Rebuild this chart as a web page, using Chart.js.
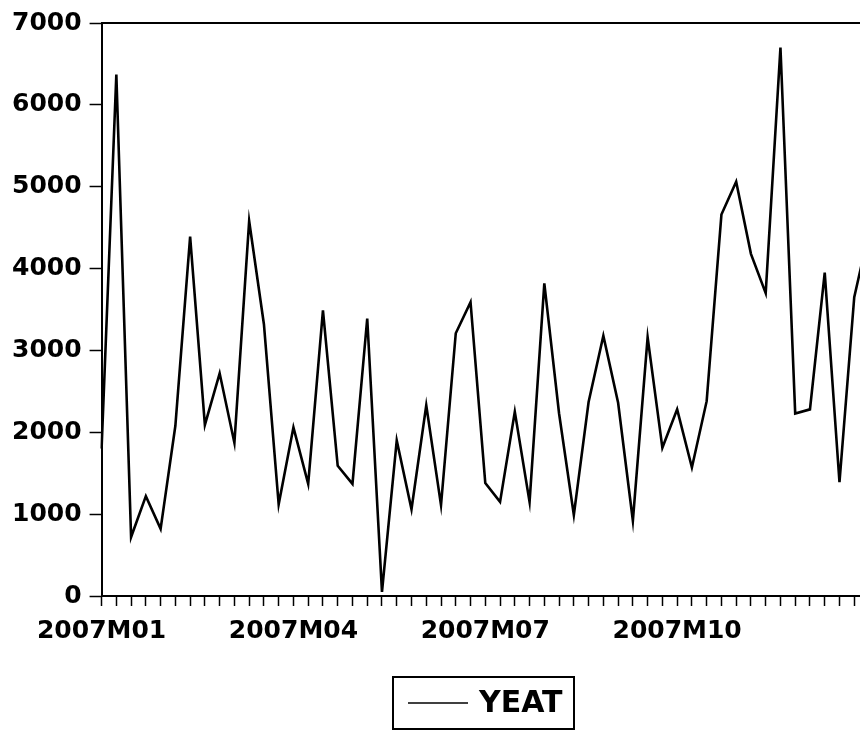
<!DOCTYPE html>
<html>
<head>
<meta charset="utf-8">
<script src="https://cdn.jsdelivr.net/npm/chart.js@4.4.0/dist/chart.umd.min.js"></script>
<style>
  html, body { margin: 0; padding: 0; background: #fff; overflow: hidden; }
  .wrap { position: relative; width: 880px; height: 732px; }
</style>
</head>
<body>
<div class="wrap"><canvas id="myChart" width="880" height="732"></canvas></div>
<script>
// months and how many weekly observations fall in each
const months = ['2007M01','2007M02','2007M03','2007M04','2007M05','2007M06',
                '2007M07','2007M08','2007M09','2007M10','2007M11','2007M12'];
const weeksPerMonth = [5,4,4,5,4,4,5,4,4,5,4,5];
const tickMonths = ['2007M01','2007M04','2007M07','2007M10'];

const yeat = [1800, 6370, 720, 1220, 820, 2080, 4390, 2090, 2720, 1870,
              4580, 3320, 1120, 2060, 1370, 3490, 1590, 1370, 3390, 50,
              1900, 1060, 2330, 1110, 3210, 3590, 1380, 1150, 2250, 1150,
              3820, 2230, 990, 2370, 3180, 2360, 920, 3160, 1810, 2280,
              1570, 2380, 4660, 5060, 4180, 3700, 6700, 2230, 2280, 3950,
              1390, 3650, 4450];

const yTicks = [0, 1000, 2000, 3000, 4000, 5000, 6000, 7000];

let categories = [];
months.forEach((m, i) => {
    for (let k = 0; k < weeksPerMonth[i]; k++) categories.push(m);
});

const tickFont = { family: 'DejaVu Sans', weight: 'bold', size: 25 };

// top frame line + boxed legend like the eviews output
const framePlugin = {
    id: 'frame',
    afterDraw(chart) {
        const ctx = chart.ctx;
        const area = chart.chartArea;
        ctx.save();
        ctx.strokeStyle = '#000';
        ctx.lineWidth = 2;
        ctx.beginPath();
        ctx.moveTo(area.left, area.top);
        ctx.lineTo(area.right, area.top);
        ctx.stroke();

        // legend
        const bx = 393, by = 677, bw = 181, bh = 52;
        ctx.lineWidth = 2;
        ctx.strokeRect(bx, by, bw, bh);
        ctx.lineWidth = 1.5;
        ctx.beginPath();
        ctx.moveTo(408, 703);
        ctx.lineTo(468, 703);
        ctx.stroke();
        ctx.fillStyle = '#000';
        ctx.font = 'bold 30px "DejaVu Sans"';
        ctx.textBaseline = 'middle';
        ctx.fillText(chart.data.datasets[0].label, 479, 704);
        ctx.restore();
    }
};

const data = {
    labels: categories,
    datasets: [{
        label: 'YEAT',
        data: yeat,
        borderColor: '#000',
        borderWidth: 2.6,
        pointRadius: 0,
        tension: 0,
        fill: false
    }]
};

const config = {
    type: 'line',
    data: data,
    options: {
        responsive: false,
        animation: false,
        layout: {
            padding: { left: 4, right: 11, top: 22, bottom: 76 }
        },
        scales: {
            x: {
                offset: false,
                grid: {
                    drawOnChartArea: false,
                    tickLength: 10,
                    color: '#000',
                    tickWidth: 1.5
                },
                border: { display: true, color: '#000', width: 2 },
                ticks: {
                    autoSkip: false,
                    maxRotation: 0,
                    padding: 10,
                    color: '#000',
                    font: tickFont,
                    callback: function(value, index) {
                        const lab = categories[index];
                        if (index > 0 && categories[index - 1] === lab) return '';
                        return tickMonths.includes(lab) ? lab : '';
                    }
                }
            },
            y: {
                min: 0,
                max: 7000,
                afterBuildTicks: (axis) => {
                    axis.ticks = yTicks.map(v => ({ value: v }));
                },
                grid: {
                    drawOnChartArea: false,
                    tickLength: 12,
                    color: '#000',
                    tickWidth: 1.5
                },
                border: { display: true, color: '#000', width: 2 },
                ticks: {
                    padding: 8,
                    color: '#000',
                    font: tickFont,
                    callback: (value) => String(value)
                }
            }
        },
        plugins: {
            legend: { display: false },
            tooltip: { enabled: false }
        }
    },
    plugins: [framePlugin]
};

let myChart = new Chart(document.getElementById('myChart'), config);
</script>
</body>
</html>
